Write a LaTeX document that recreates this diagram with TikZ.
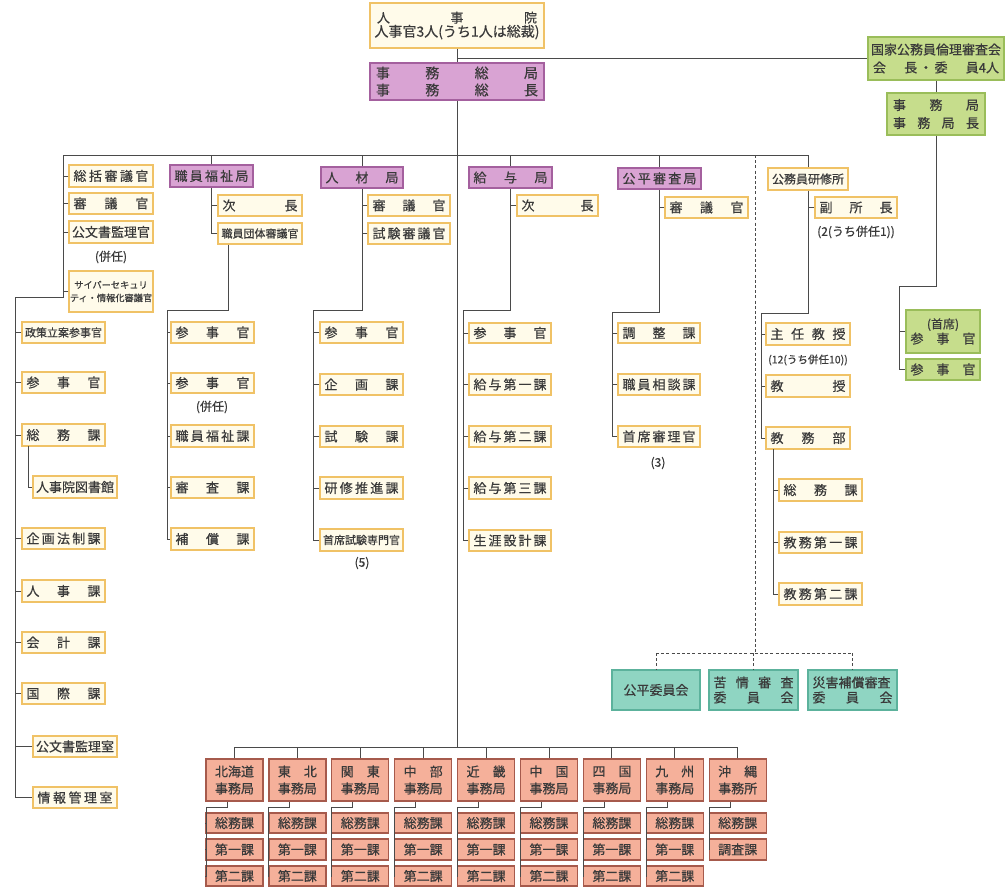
\documentclass[tikz,border=0pt]{standalone}
\usepackage{fontspec}
\setmainfont{Noto Sans CJK JP}[BoldFont={Noto Sans CJK JP},BoldFeatures={FakeBold=0.5}]
\usetikzlibrary{calc}
\definecolor{lineC}{HTML}{4A4A4A}
\definecolor{txtC}{HTML}{3A3A3A}
\definecolor{fillY}{HTML}{FFFBEA}
\definecolor{drawY}{HTML}{F0C266}
\definecolor{fillP}{HTML}{D9A3D3}
\definecolor{drawP}{HTML}{A4609E}
\definecolor{fillG}{HTML}{C6DD8C}
\definecolor{drawG}{HTML}{9ABD5A}
\definecolor{fillT}{HTML}{8FD5C2}
\definecolor{drawT}{HTML}{5CB29C}
\definecolor{fillR}{HTML}{F5B09A}
\definecolor{drawR}{HTML}{A65A4C}
\tikzset{
  base/.style={inner sep=0pt, line width=1.2pt, text=txtC, font=\fontsize{13}{15}\selectfont\bfseries, align=center},
  ybox/.style={base, draw=drawY, fill=fillY},
  pbox/.style={base, draw=drawP, fill=fillP},
  gbox/.style={base, draw=drawG, fill=fillG},
  tbox/.style={base, draw=drawT, fill=fillT},
  rbox/.style={base, draw=drawR, fill=fillR, font=\fontsize{13}{17}\selectfont\bfseries},
  ln/.style={line width=0.9pt, draw=lineC},
  dln/.style={line width=0.9pt, draw=lineC, dash pattern=on 3pt off 2.2pt},
  note/.style={inner sep=0pt, text=txtC, font=\fontsize{12}{14}\selectfont\bfseries}
}
\newcommand{\obox}[7]{%
  \pgfmathsetmacro{\bw}{#5-#3}%
  \pgfmathsetmacro{\bh}{#6-#4}%
  \node[#2,minimum width=\bw pt,minimum height=\bh pt] (#1) at ({(#3+#5)/2},{(#4+#6)/2}) {#7};}
\newcommand{\spr}[1]{\makebox[\dimexpr\bw pt-9pt\relax][s]{#1}}
\newcommand{\spw}[2]{\makebox[#1pt][s]{#2}}
\newcommand{\sm}[1]{{\fontsize{11}{12}\selectfont #1}}
\begin{document}
\begin{tikzpicture}[x=1pt,y=-1pt]
\useasboundingbox (0,0) rectangle (1006,891);
\fill[white] (0,0) rectangle (1006,891);

% ---- top ----
\obox{jinjiin}{ybox}{370}{3}{544}{48}{\spw{160}{人\hfill 事\hfill 院}\\[-1pt]{\fontsize{14}{16}\selectfont 人事官3人(うち1人は総裁)}}
\obox{somu}{pbox,font=\fontsize{14}{17}\selectfont\bfseries}{370}{63}{544}{100}{\spw{162}{事\hfill 務\hfill 総\hfill 局}\\ \spw{162}{事\hfill 務\hfill 総\hfill 長}}
\obox{rinri}{gbox,font=\fontsize{13}{18}\selectfont\bfseries}{868}{37}{1004}{80}{国家公務員倫理審査会\\ \spw{126}{会\hfill 長\,・\,委\hfill 員4人}}
\obox{jimukyoku}{gbox,font=\fontsize{13}{18}\selectfont\bfseries}{887}{93}{985}{135}{\spw{86}{事\hfill 務\hfill 局}\\ \spw{86}{事\hfill 務\hfill 局\hfill 長}}
\obox{gshuseki}{gbox}{906}{310}{980}{353}{{\fontsize{12}{14}\selectfont (首席)}\\ \spr{参\hfill 事\hfill 官}}
\obox{gsanji}{gbox}{906}{359}{980}{380}{\spr{参\hfill 事\hfill 官}}

\draw[ln] (jinjiin.south) -- (somu.north);
\coordinate (J1) at (457,58);
\draw[ln] (J1) -- (J1 -| rinri.west);
\draw[ln] (rinri.south -| jimukyoku.north) -- (jimukyoku.north);
\coordinate (G1) at (899,286);
\draw[ln] (jimukyoku.south) |- (G1) |- (gsanji.west);
\draw[ln] (gshuseki.west) -- (gshuseki.west -| G1);

% ---- main bus ----
\coordinate (busL) at (63,155);
\coordinate (busR) at (808,155);
\draw[ln] (busL) -- (busR);
\coordinate (rbus) at (457,747);
\draw[ln] (somu.south) -- (rbus);

% ---- column A / L ----
\obox{sokatsu}{ybox}{69}{165}{153}{187}{\spr{総\hfill 括\hfill 審\hfill 議\hfill 官}}
\obox{shingiA}{ybox}{69}{193}{153}{214}{\spr{審\hfill 議\hfill 官}}
\obox{kobunsho}{ybox}{69}{221}{153}{243}{公文書監理官}
\node[note] (nA) at (111,257) {(併任)};
\obox{cyber}{ybox,font=\fontsize{9.2}{13}\selectfont\bfseries}{69}{271}{153}{312}{サイバーセキュリ\\ティ・情報化審議官}
\coordinate (A1) at (63,297);
\coordinate (A2) at (15,297);
\foreach \n in {sokatsu,shingiA,kobunsho,cyber} {\draw[ln] (\n.west) -- (\n.west -| busL);}

\obox{seisaku}{ybox}{22}{322}{105}{343}{\sm{政策立案参事官}}
\obox{sanjiL}{ybox}{22}{372}{105}{393}{\spr{参\hfill 事\hfill 官}}
\obox{somuka}{ybox}{22}{424}{105}{446}{\spr{総\hfill 務\hfill 課}}
\obox{tosho}{ybox}{33}{476}{117}{498}{人事院図書館}
\obox{kikaku}{ybox}{22}{528}{105}{549}{\spr{企\hfill 画\hfill 法\hfill 制\hfill 課}}
\obox{jinjika}{ybox}{22}{580}{105}{602}{\spr{人\hfill 事\hfill 課}}
\obox{kaikei}{ybox}{22}{632}{105}{653}{\spr{会\hfill 計\hfill 課}}
\obox{kokusai}{ybox}{22}{683}{105}{704}{\spr{国\hfill 際\hfill 課}}
\obox{kobunshitsu}{ybox}{33}{736}{117}{757}{公文書監理室}
\obox{joho}{ybox}{33}{787}{117}{808}{\spr{情\hfill 報\hfill 管\hfill 理\hfill 室}}
\draw[ln] (busL) -- (A1) -- (A2) |- (joho.west);
\foreach \n in {seisaku,sanjiL,somuka,kikaku,jinjika,kaikei,kokusai,kobunshitsu} {\draw[ln] (\n.west) -- (\n.west -| A2);}
\coordinate (T1) at (28,446);
\draw[ln] (T1) |- (tosho.west);

% ---- column B ----
\obox{fukushi}{pbox}{170}{165}{253}{187}{\spr{職\hfill 員\hfill 福\hfill 祉\hfill 局}}
\obox{jichoB}{ybox}{218}{195}{302}{216}{\spr{次\hfill 長}}
\obox{dantai}{ybox}{218}{223}{302}{244}{\sm{職員団体審議官}}
\draw[ln] (fukushi.north) -- (fukushi.north |- busL);
\draw[ln] (fukushi.south) -- (fukushi.south |- dantai.west);
\foreach \n in {jichoB,dantai} {\draw[ln] (\n.west) -- (\n.west -| fukushi.south);}
\obox{fsanji}{ybox}{171}{322}{254}{343}{\spr{参\hfill 事\hfill 官}}
\obox{fsanji2}{ybox}{171}{373}{254}{393}{\spr{参\hfill 事\hfill 官}}
\node[note] (nB) at (212,407) {(併任)};
\obox{ffuku}{ybox}{171}{425}{254}{447}{\spr{職\hfill 員\hfill 福\hfill 祉\hfill 課}}
\obox{fshinsa}{ybox}{171}{477}{254}{498}{\spr{審\hfill 査\hfill 課}}
\obox{fhosho}{ybox}{171}{528}{254}{550}{\spr{補\hfill 償\hfill 課}}
\coordinate (B1) at (228,310);
\coordinate (B2) at (167,310);
\draw[ln] (B1 |- dantai.south) -- (B1) -- (B2) |- (fhosho.west);
\foreach \n in {fsanji,fsanji2,ffuku,fshinsa} {\draw[ln] (\n.west) -- (\n.west -| B2);}

% ---- column C ----
\obox{jinzai}{pbox}{321}{167}{403}{188}{\spr{人\hfill 材\hfill 局}}
\obox{shingiC}{ybox}{368}{195}{450}{216}{\spr{審\hfill 議\hfill 官}}
\obox{shikenS}{ybox}{368}{223}{450}{244}{\spr{試\hfill 験\hfill 審\hfill 議\hfill 官}}
\draw[ln] (jinzai.north) -- (jinzai.north |- busL);
\coordinate (C1) at (362,310);
\coordinate (C2) at (313,310);
\obox{jsanji}{ybox}{320}{322}{403}{343}{\spr{参\hfill 事\hfill 官}}
\obox{jkikaku}{ybox}{320}{374}{403}{395}{\spr{企\hfill 画\hfill 課}}
\obox{jshiken}{ybox}{320}{426}{403}{447}{\spr{試\hfill 験\hfill 課}}
\obox{jkenshu}{ybox}{320}{477}{403}{499}{\spr{研\hfill 修\hfill 推\hfill 進\hfill 課}}
\obox{jshuseki}{ybox}{320}{529}{403}{551}{\sm{首席試験専門官}}
\node[note] (nC) at (362,563) {(5)};
\draw[ln] (jinzai.south) -- (C1) -- (C2) |- (jshuseki.west);
\foreach \n in {shingiC,shikenS} {\draw[ln] (\n.west) -- (\n.west -| C1);}
\foreach \n in {jsanji,jkikaku,jshiken,jkenshu} {\draw[ln] (\n.west) -- (\n.west -| C2);}

% ---- column D ----
\obox{kyuyo}{pbox}{469}{167}{552}{188}{\spr{給\hfill 与\hfill 局}}
\obox{jichoD}{ybox}{517}{195}{598}{216}{\spr{次\hfill 長}}
\draw[ln] (kyuyo.north) -- (kyuyo.north |- busL);
\coordinate (D1) at (510.5,310);
\coordinate (D2) at (463,310);
\obox{ksanji}{ybox}{469}{323}{551}{343}{\spr{参\hfill 事\hfill 官}}
\obox{kone}{ybox}{469}{374}{551}{395}{\spr{給\hfill 与\hfill 第\hfill 一\hfill 課}}
\obox{ktwo}{ybox}{469}{426}{551}{447}{\spr{給\hfill 与\hfill 第\hfill 二\hfill 課}}
\obox{kthree}{ybox}{469}{477}{551}{499}{\spr{給\hfill 与\hfill 第\hfill 三\hfill 課}}
\obox{kshogai}{ybox}{469}{530}{551}{551}{\spr{生\hfill 涯\hfill 設\hfill 計\hfill 課}}
\draw[ln] (kyuyo.south) -- (D1) -- (D2) |- (kshogai.west);
\draw[ln] (jichoD.west) -- (jichoD.west -| D1);
\foreach \n in {ksanji,kone,ktwo,kthree} {\draw[ln] (\n.west) -- (\n.west -| D2);}

% ---- column E ----
\obox{kohei}{pbox}{618}{168}{701}{189}{\spr{公\hfill 平\hfill 審\hfill 査\hfill 局}}
\obox{shingiE}{ybox}{665}{197}{748}{218}{\spr{審\hfill 議\hfill 官}}
\draw[ln] (kohei.north) -- (kohei.north |- busL);
\coordinate (E1) at (659.5,312);
\coordinate (E2) at (612,312);
\obox{chosei}{ybox}{618}{323}{700}{343}{\spr{調\hfill 整\hfill 課}}
\obox{sodan}{ybox}{618}{374}{700}{395}{\spr{職\hfill 員\hfill 相\hfill 談\hfill 課}}
\obox{shinri}{ybox}{618}{426}{700}{447}{\spr{首\hfill 席\hfill 審\hfill 理\hfill 官}}
\node[note] (nE) at (658,463) {(3)};
\draw[ln] (kohei.south) -- (E1) -- (E2) |- (shinri.west);
\draw[ln] (shingiE.west) -- (shingiE.west -| E1);
\foreach \n in {chosei,sodan} {\draw[ln] (\n.west) -- (\n.west -| E2);}

% ---- column F ----
\obox{kenshu}{ybox,font=\fontsize{12}{14}\selectfont\bfseries}{768}{168}{848}{190}{公務員研修所}
\obox{fukusho}{ybox}{815}{197}{897}{218}{\spr{副\hfill 所\hfill 長}}
\node[note] (nF1) at (856,232) {(2(うち併任1))};
\draw[ln] (kenshu.north) -- (busR);
\coordinate (F1) at (808,313);
\coordinate (F2) at (761,313);
\obox{shunin}{ybox}{766}{323}{850}{345}{\spr{主\hfill 任\hfill 教\hfill 授}}
\node[note,font=\fontsize{10.5}{12}\selectfont\bfseries] (nF2) at (808,360) {(12(うち併任10))};
\obox{kyoju}{ybox}{766}{375}{850}{397}{\spr{教\hfill 授}}
\obox{kyomu}{ybox}{766}{427}{850}{449}{\spr{教\hfill 務\hfill 部}}
\draw[ln] (kenshu.south) -- (F1) -- (F2) |- (kyomu.west);
\draw[ln] (fukusho.west) -- (fukusho.west -| F1);
\foreach \n in {shunin,kyoju} {\draw[ln] (\n.west) -- (\n.west -| F2);}
\obox{ksomu}{ybox}{779}{479}{862}{501}{\spr{総\hfill 務\hfill 課}}
\obox{kk1}{ybox}{779}{532}{862}{553}{\spr{教\hfill 務\hfill 第\hfill 一\hfill 課}}
\obox{kk2}{ybox}{779}{583}{862}{605}{\spr{教\hfill 務\hfill 第\hfill 二\hfill 課}}
\coordinate (F3) at (773,449);
\draw[ln] (F3) |- (kk2.west);
\foreach \n in {ksomu,kk1} {\draw[ln] (\n.west) -- (\n.west -| F3);}

% ---- committees ----
\obox{koheiI}{tbox}{612}{670}{700}{710}{公平委員会}
\obox{kujo}{tbox}{709}{670}{798}{710}{\spr{苦\hfill 情\hfill 審\hfill 査}\\ \spr{委\hfill 員\hfill 会}}
\obox{saigai}{tbox}{808}{670}{897}{710}{\spw{80}{災害補償審査}\\ \spr{委\hfill 員\hfill 会}}
\coordinate (Dt) at (755,155);
\coordinate (Dm) at (755,653);
\draw[dln] (Dt) -- (Dm);
\draw[dln] (koheiI.north |- Dm) -- (saigai.north |- Dm);
\foreach \n in {koheiI,kujo,saigai} {\draw[dln] (\n.north |- Dm) -- (\n.north);}

% ---- regional offices ----
\foreach \i/\a/\b in {0/北海道/事務局,1/{東\hfill 北}/事務局,2/{関\hfill 東}/事務局,3/{中\hfill 部}/事務局,4/{近\hfill 畿}/事務局,5/{中\hfill 国}/事務局,6/{四\hfill 国}/事務局,7/{九\hfill 州}/事務局,8/{沖\hfill 縄}/事務所} {
  \pgfmathsetmacro{\L}{206+62.9*\i}
  \obox{r\i}{rbox}{\L}{759}{\L+57}{801}{\spw{39}{\a}\\ \spw{39}{\b}}
  \draw[ln] (r\i.north) -- (r\i.north |- rbus);
  \coordinate (rc\i) at (\L,807);
  \obox{sa\i}{rbox}{\L+5}{813}{\L+52}{833}{総務課}
  \draw[ln] (sa\i.west) -- (sa\i.west -| rc\i);
}
\draw[ln] (r0.north |- rbus) -- (r8.north |- rbus);
\foreach \i in {0,...,7} {
  \pgfmathsetmacro{\L}{206+62.9*\i}
  \obox{sb\i}{rbox}{\L+5}{839}{\L+52}{860}{第一課}
  \obox{sc\i}{rbox}{\L+5}{866}{\L+52}{886}{第二課}
  \draw[ln] ([xshift=-7.5pt]r\i.south) |- (rc\i) |- (sc\i.west);
  \draw[ln] (sb\i.west) -- (sb\i.west -| rc\i);
}
\pgfmathsetmacro{\L}{206+62.9*8}
\obox{sb8}{rbox}{\L+5}{839}{\L+52}{860}{調査課}
\draw[ln] ([xshift=-7.5pt]r8.south) |- (rc8) |- (sb8.west);
\end{tikzpicture}
\end{document}
